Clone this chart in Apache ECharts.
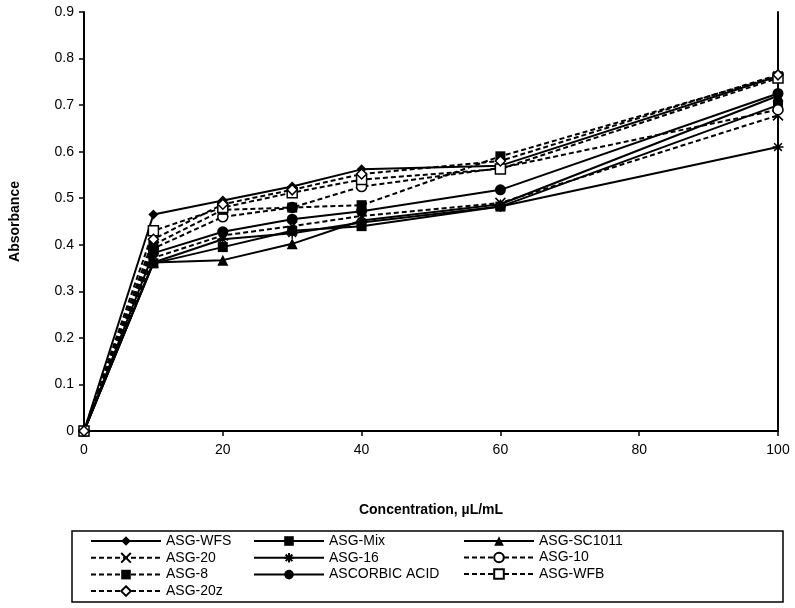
<!DOCTYPE html>
<html><head><meta charset="utf-8">
<script src="https://cdn.jsdelivr.net/npm/echarts@6/dist/echarts.min.js"></script>
<style>html,body{margin:0;padding:0;background:#fff}#c{width:795px;height:608px}</style>
</head><body><div id="c"></div>
<script>
const concentrations = [0, 10, 20, 30, 40, 60, 100];
const asgWFS      = [0, 0.465, 0.495, 0.525, 0.562, 0.570, 0.762];
const asgMix      = [0, 0.360, 0.395, 0.430, 0.440, 0.482, 0.700];
const asgSC1011   = [0, 0.362, 0.367, 0.402, 0.452, 0.487, 0.720];
const asg20       = [0, 0.372, 0.420, 0.440, 0.462, 0.490, 0.678];
const asg16       = [0, 0.362, 0.412, 0.425, 0.448, 0.482, 0.610];
const asg10       = [0, 0.392, 0.460, 0.480, 0.525, 0.565, 0.690];
const asg8        = [0, 0.400, 0.475, 0.480, 0.485, 0.590, 0.762];
const ascorbic    = [0, 0.382, 0.428, 0.455, 0.472, 0.518, 0.725];
const asgWFB      = [0, 0.430, 0.480, 0.512, 0.540, 0.563, 0.758];
const asg20z      = [0, 0.412, 0.487, 0.518, 0.552, 0.580, 0.765];
const xTicks = [0, 20, 40, 60, 80, 100];
const yTicks = [0, 0.1, 0.2, 0.3, 0.4, 0.5, 0.6, 0.7, 0.8, 0.9];

const XPATH = 'path://M0,0L10,10M10,0L0,10';
const STAR = 'path://M5,0L5,10M0,5L10,5M1.5,1.5L8.5,8.5M8.5,1.5L1.5,8.5';

const defs = [
  {name:'ASG-WFS', data:asgWFS, dash:false, symbol:'diamond', size:10, fill:'#000'},
  {name:'ASG-Mix', data:asgMix, dash:false, symbol:'rect', size:10, fill:'#000'},
  {name:'ASG-SC1011', data:asgSC1011, dash:false, symbol:'triangle', size:11, fill:'#000'},
  {name:'ASG-20', data:asg20, dash:true, symbol:XPATH, size:10, fill:'none', stroke:true},
  {name:'ASG-16', data:asg16, dash:false, symbol:STAR, size:11, fill:'none', stroke:true},
  {name:'ASG-10', data:asg10, dash:true, symbol:'circle', size:10, fill:'#fff'},
  {name:'ASG-8', data:asg8, dash:true, symbol:'rect', size:10, fill:'#000'},
  {name:'ASCORBIC ACID', data:ascorbic, dash:false, symbol:'circle', size:11, fill:'#000'},
  {name:'ASG-WFB', data:asgWFB, dash:true, symbol:'rect', size:10, fill:'#fff'},
  {name:'ASG-20z', data:asg20z, dash:true, symbol:'diamond', size:10, fill:'#fff'}
];

const series = defs.map(d => ({
  name: d.name,
  type: 'line',
  data: concentrations.map((x, i) => [x, d.data[i]]),
  symbol: d.symbol,
  symbolSize: d.size,
  showAllSymbol: true,
  lineStyle: {color:'#000', width:2, type: d.dash ? [5,3] : 'solid'},
  itemStyle: {color: d.fill, borderColor:'#000', borderWidth: d.fill === '#000' ? 0 : 1.5},
  emphasis: {disabled:true},
  animation: false,
  z: 3
}));

const font = 'Liberation Sans, Arial, sans-serif';
const legendCommon = {
  orient:'vertical', itemWidth:70, itemHeight:12, itemGap:2.5, height:72,
  textStyle:{fontFamily:font, fontSize:14, color:'#000', padding:[0,0,0,0]},
  selectedMode:false, padding:0
};

const chart = echarts.init(document.getElementById('c'));
chart.setOption({
  backgroundColor:'#fff',
  animation:false,
  grid:{left:84, right:17, top:12, bottom:177, containLabel:false},
  xAxis:{
    type:'value', min:xTicks[0], max:xTicks[xTicks.length-1], interval:20,
    name:'Concentration, µL/mL', nameLocation:'middle', nameGap:72,
    nameTextStyle:{fontFamily:font, fontSize:14, fontWeight:'bold', color:'#000'},
    axisLine:{lineStyle:{color:'#000', width:2}},
    axisTick:{show:true, inside:false, length:5, lineStyle:{color:'#000', width:1.5}},
    axisLabel:{fontFamily:font, fontSize:14, color:'#000', margin:12},
    splitLine:{show:false}
  },
  yAxis:[{
    type:'value', min:yTicks[0], max:yTicks[yTicks.length-1], interval:0.1,
    name:'Absorbance', nameLocation:'middle', nameGap:62, nameRotate:90,
    nameTextStyle:{fontFamily:font, fontSize:14, fontWeight:'bold', color:'#000'},
    axisLine:{show:true, lineStyle:{color:'#000', width:2}},
    axisTick:{show:true, inside:false, length:5, lineStyle:{color:'#000', width:1.5}},
    axisLabel:{fontFamily:font, fontSize:14, color:'#000', margin:10,
      formatter: v => String(Math.round(v*10)/10)},
    splitLine:{show:false}
  },{
    type:'value', min:0, max:0.9, interval:0.1, position:'right',
    axisLine:{show:true, lineStyle:{color:'#000', width:2}},
    axisTick:{show:false}, axisLabel:{show:false}, splitLine:{show:false}
  }],
  legend:[
    Object.assign({left:90, top:534, data:['ASG-WFS','ASG-20','ASG-8','ASG-20z']}, legendCommon),
    Object.assign({left:253, top:534, data:['ASG-Mix','ASG-16','ASCORBIC ACID']}, legendCommon),
    Object.assign({left:463, top:534, data:['ASG-SC1011','ASG-10','ASG-WFB']}, legendCommon)
  ],
  graphic:[{type:'rect', shape:{x:72, y:531, width:711, height:71},
    style:{fill:'none', stroke:'#000', lineWidth:1.5}, silent:true}],
  series: series
});
</script></body></html>
